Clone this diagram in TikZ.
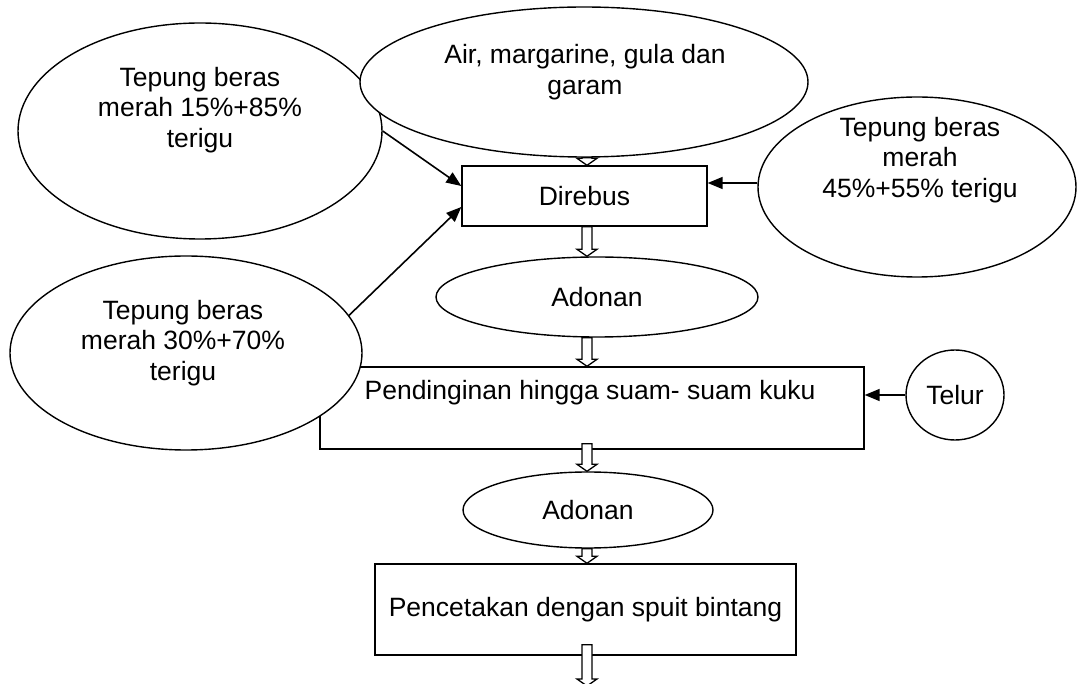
\documentclass[tikz,border=0pt]{standalone}
\usepackage{fontspec}
\setmainfont{Liberation Sans}
\usetikzlibrary{shapes.geometric,arrows.meta,calc}
\newcommand\hollowarr[2]{\draw[harrow] let \p1=#1, \p2=#2 in (\x1-5pt,\y1) -- (\x1-5pt,\y2+7pt) -- (\x1-10pt,\y2+7pt) -- (\x1,\y2) -- (\x1+10pt,\y2+7pt) -- (\x1+5pt,\y2+7pt) -- (\x1+5pt,\y1) -- cycle;}
\begin{document}
\begin{tikzpicture}[x=1pt,y=-1pt,
  shp/.style={draw,line width=1.4pt,fill=white,inner sep=0pt,font=\fontsize{26.5}{30.5}\selectfont},
  oval/.style={shp,ellipse},
  boxx/.style={shp,rectangle},
  lbl/.style={align=center,font=\fontsize{26.5}{30.5}\selectfont,inner sep=0pt},
  conn/.style={line width=1.6pt,-{Triangle[length=15pt,width=12pt]}},
  harrow/.style={line width=1.3pt,fill=white}]
\useasboundingbox[fill=white] (0,0) rectangle (1077,684);
\coordinate (ax) at (587,0);
\coordinate (bot) at (587,686);
% boxes
\node[boxx,minimum width=245pt,minimum height=60pt] (dire) at (584.5,196) {Direbus};
\node[boxx,minimum width=544pt,minimum height=82pt] (pend) at (592,408) {};
\node[lbl] (tpend) at (590,393) {Pendinginan hingga suam- suam kuku};
\node[boxx,minimum width=421pt,minimum height=91pt] (pco) at (585.5,609.5) {Pencetakan dengan spuit bintang};
% small ellipses
\node[oval,minimum width=322pt,minimum height=80pt] (ad1) at (597,297) {Adonan};
\node[oval,minimum width=250pt,minimum height=76pt] (ad2) at (588,510) {Adonan};
\node[oval,minimum width=98pt,minimum height=90pt] (telur) at (955,395) {Telur};
% big ellipses
\node[oval,minimum width=352pt,minimum height=194pt] (e30) at (186,353) {};
\node[lbl] (t30) at (183,343) {Tepung beras\\merah 30\%+70\%\\terigu};
\node[oval,minimum width=364pt,minimum height=216pt] (e15) at (200,131) {};
\node[lbl] (t15) at (200,110) {Tepung beras\\merah 15\%+85\%\\terigu};
\node[oval,minimum width=318pt,minimum height=180pt] (eR) at (917,187) {};
\node[lbl] (tR) at (920,160) {Tepung beras\\merah\\45\%+55\% terigu};
\node[oval,minimum width=448pt,minimum height=150pt] (top) at (584,82) {};
\node[lbl] (ttop) at (585,72) {Air, margarine, gula dan\\garam};
% connectors
\draw[conn] (e15.east) -- ([yshift=10pt]dire.west);
\draw[conn] (e30.13) -- ([yshift=-11pt]dire.west);
\draw[conn] ([yshift=4pt]eR.west) -- ([yshift=4pt]eR.west -| dire.east);
\draw[conn] (telur.west) -- (telur.west -| pend.east);
% hollow arrows
\hollowarr{(ax |- top.south)}{(ax |- dire.north)}
\hollowarr{(ax |- dire.south)}{(ax |- ad1.north)}
\hollowarr{(ax |- ad1.south)}{(ax |- pend.north)}
\hollowarr{([yshift=6pt]ax |- pend.south)}{(ax |- ad2.north)}
\hollowarr{(ax |- ad2.south)}{(ax |- pco.north)}
\hollowarr{([yshift=11pt]ax |- pco.south)}{(bot)}
\end{tikzpicture}
\end{document}
